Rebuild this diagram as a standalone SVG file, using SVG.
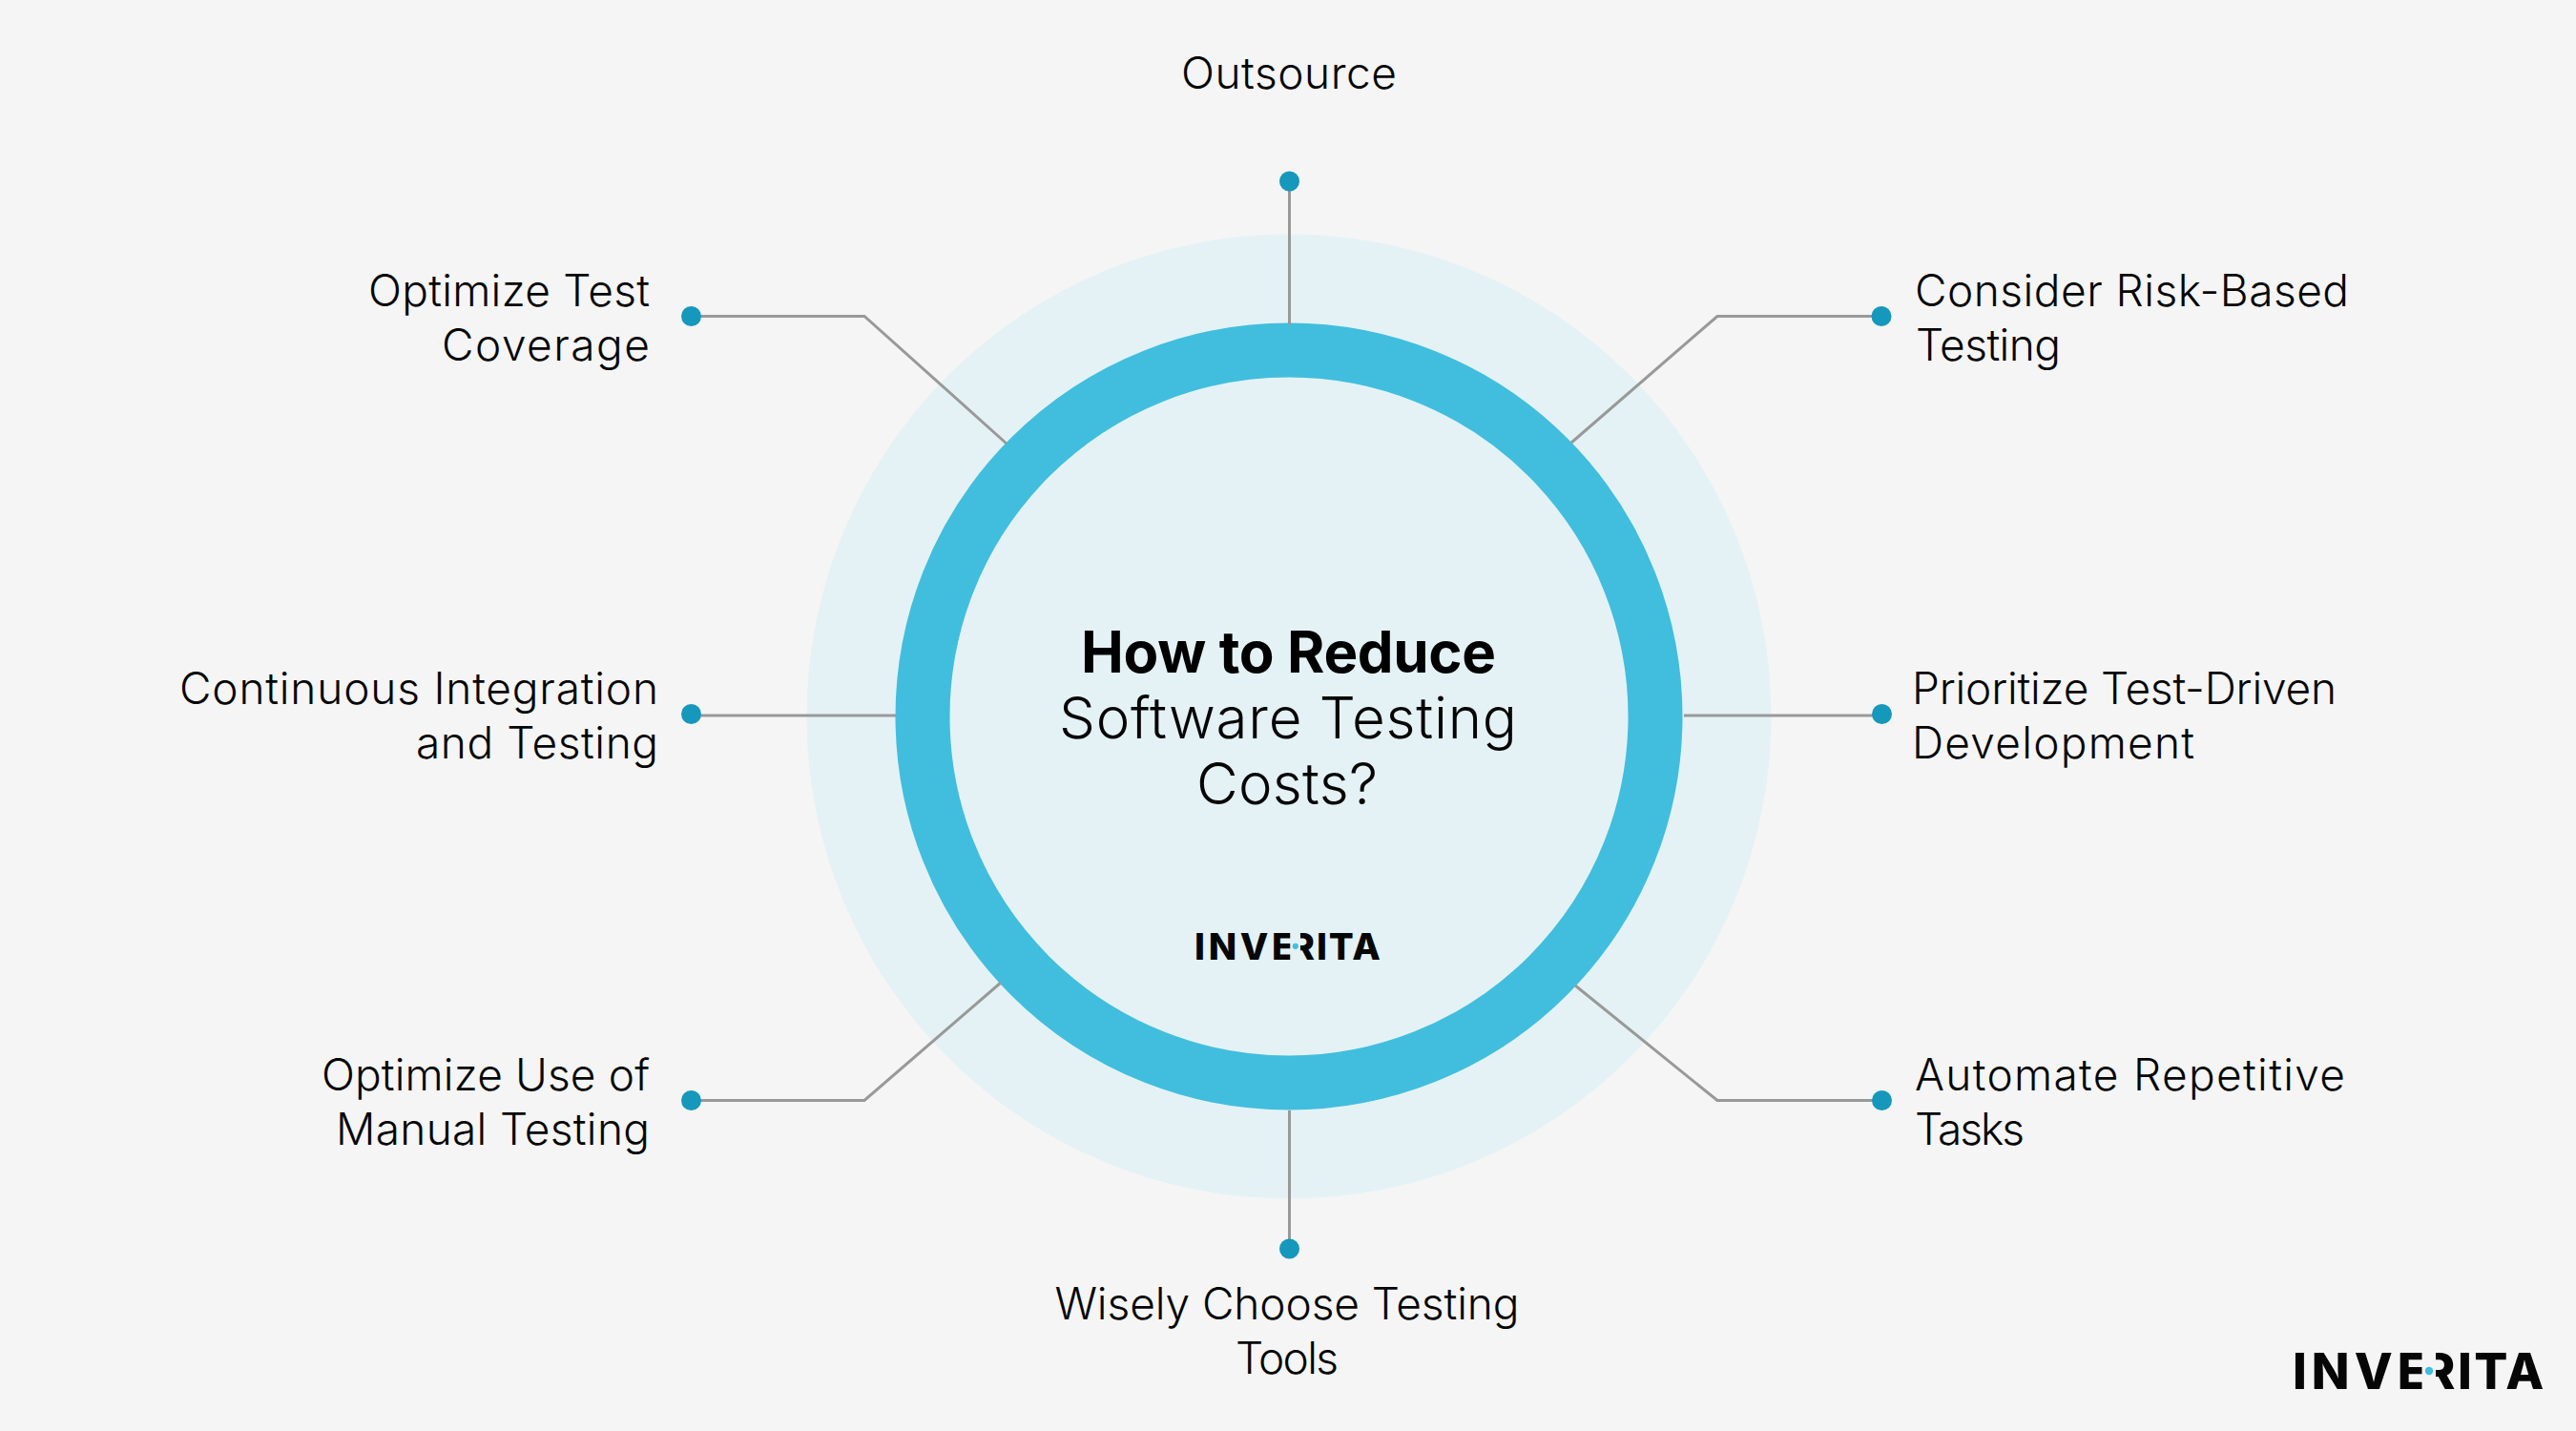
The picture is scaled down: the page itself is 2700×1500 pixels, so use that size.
<svg xmlns="http://www.w3.org/2000/svg" width="2700" height="1500" viewBox="0 0 2700 1500">
<style>
.l{font-family:Inter,"Noto Sans",sans-serif;font-size:46px;font-weight:300;fill:#050505}
.t{font-family:Inter,"Noto Sans",sans-serif;font-size:60px;font-weight:300;fill:#050505;text-anchor:middle}
.b{font-weight:700;fill:#000}
.e{text-anchor:end}.m{text-anchor:middle}
.c{fill:none;stroke:#999;stroke-width:3}
.d{fill:#1598bb}
.logo{font-family:Inter,"Liberation Sans",sans-serif;font-weight:800;font-size:52px;fill:#060606}
.dot{fill:#41bede}
</style>
<rect width="2700" height="1500" fill="#f5f5f5"/>
<g id="hub">
<circle cx="1351" cy="751" r="505.500" fill="#e4f2f6"/>
<circle cx="1351" cy="751" r="384" fill="none" stroke="#41bede" stroke-width="57"/>
</g>
<g id="connectors">
<path class="c" d="M1351.500 190V340"/>
<path class="c" d="M1972 331.500H1800L1647 464"/>
<path class="c" d="M1765 750H1972"/>
<path class="c" d="M1972 1153.500H1800L1651 1033"/>
<path class="c" d="M1351.500 1164V1310"/>
<path class="c" d="M725 1153.500H906L1049 1030"/>
<path class="c" d="M725 750H939"/>
<path class="c" d="M725 331.500H906L1055 465"/>
</g>
<g id="center-title">
<text class="t b" x="1350.500" y="705" textLength="435">How to Reduce</text>
<text class="t" x="1350" y="774" textLength="480">Software Testing</text>
<text class="t" x="1349" y="843" textLength="190">Costs?</text>
</g>
<g id="center-logo" transform="translate(1252.700 1005.700) scale(.74)">
<text class="logo" y="0"><tspan x="-1" letter-spacing="5">INVE</tspan><tspan x="135" letter-spacing="2.500">RITA</tspan></text>
<rect x="134.500" y="-41" width="14.500" height="44" fill="#e4f2f6"/>
<circle class="dot" cx="142" cy="-18.700" r="4.200"/>
</g>
<g id="n-outsource"><circle class="d" cx="1351.500" cy="190" r="10.500"/><text class="l m" x="1351" y="93" textLength="226">Outsource</text></g>
<g id="n-risk"><circle class="d" cx="1972" cy="331.500" r="10.500"/><text class="l" x="2007" y="321" textLength="455">Consider Risk-Based</text><text class="l" x="2008" y="378" textLength="152">Testing</text></g>
<g id="n-tdd"><circle class="d" cx="1972.500" cy="748.500" r="10.500"/><text class="l" x="2004" y="738" textLength="445">Prioritize Test-Driven</text><text class="l" x="2004" y="795" textLength="296">Development</text></g>
<g id="n-automate"><circle class="d" cx="1972.500" cy="1153.500" r="10.500"/><text class="l" x="2007" y="1143" textLength="451">Automate Repetitive</text><text class="l" x="2007" y="1200" textLength="115">Tasks</text></g>
<g id="n-tools"><circle class="d" cx="1351.500" cy="1309" r="10.500"/><text class="l m" x="1349" y="1383" textLength="487">Wisely Choose Testing</text><text class="l m" x="1349" y="1440" textLength="108">Tools</text></g>
<g id="n-manual"><circle class="d" cx="724.500" cy="1153.500" r="10.500"/><text class="l e" x="681" y="1143" textLength="344">Optimize Use of</text><text class="l e" x="681" y="1200" textLength="329">Manual Testing</text></g>
<g id="n-ci"><circle class="d" cx="724.500" cy="748.500" r="10.500"/><text class="l e" x="690" y="738" textLength="502">Continuous Integration</text><text class="l e" x="690" y="795" textLength="254">and Testing</text></g>
<g id="n-coverage"><circle class="d" cx="724.500" cy="331.500" r="10.500"/><text class="l e" x="681" y="321" textLength="295">Optimize Test</text><text class="l e" x="681" y="378" textLength="218">Coverage</text></g>
<g id="corner-logo" transform="translate(2404 1455.700)">
<text class="logo" y="0"><tspan x="-1" letter-spacing="5">INVE</tspan><tspan x="135" letter-spacing="2.500">RITA</tspan></text>
<rect x="134.500" y="-41" width="14.500" height="44" fill="#f5f5f5"/>
<circle class="dot" cx="142" cy="-18.700" r="4.200"/>
</g>
</svg>
